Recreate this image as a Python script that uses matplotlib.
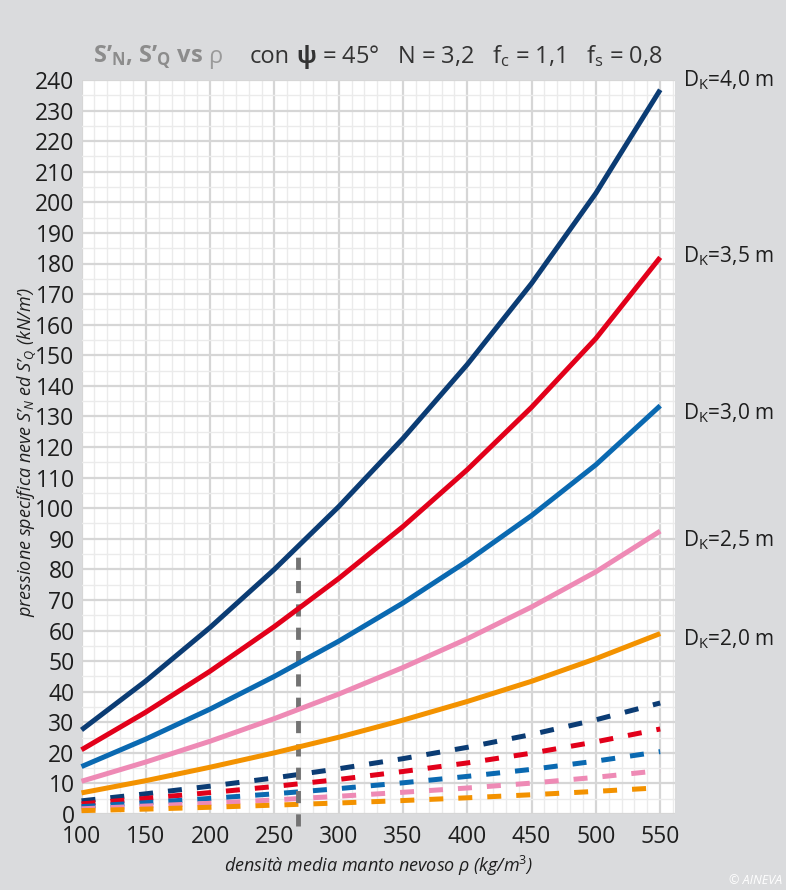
import matplotlib
matplotlib.use("Agg")
import matplotlib.pyplot as plt
from matplotlib.ticker import MultipleLocator

plt.rcParams['font.family'] = ['Open Sans', 'DejaVu Sans']
plt.rcParams['mathtext.fontset'] = 'custom'
plt.rcParams['mathtext.rm'] = 'Open Sans'
plt.rcParams['mathtext.it'] = 'Open Sans:italic'
plt.rcParams['mathtext.bf'] = 'Open Sans:bold'

# snow density (kg/m3)
rho = [100, 150, 200, 250, 300, 350, 400, 450, 500, 550]

# S'N, specific snow pressure (kN/m') for each snow depth D_K
sn_40 = [27.5, 43.5, 61.0, 80.0, 100.5, 122.8, 147.0, 173.5, 203.0, 236.8]
sn_35 = [21.0, 33.3, 46.7, 61.3, 77.0, 94.0, 112.6, 133.0, 155.5, 182.0]
sn_30 = [15.5, 24.5, 34.3, 45.0, 56.5, 69.0, 82.7, 97.6, 114.2, 133.5]
sn_25 = [10.7, 17.0, 23.8, 31.2, 39.2, 47.9, 57.3, 67.7, 79.2, 92.5]
sn_20 = [6.9, 10.9, 15.3, 20.0, 25.1, 30.7, 36.8, 43.4, 50.8, 59.0]

# S'Q, specific snow pressure (kN/m') for each snow depth D_K
sq_40 = [4.3, 6.6, 9.1, 11.8, 14.8, 18.1, 21.8, 26.0, 30.8, 36.3]
sq_35 = [3.3, 5.1, 7.0, 9.0, 11.3, 13.9, 16.7, 19.9, 23.6, 27.8]
sq_30 = [2.4, 3.7, 5.1, 6.6, 8.3, 10.2, 12.3, 14.6, 17.3, 20.4]
sq_25 = [1.7, 2.6, 3.5, 4.6, 5.8, 7.1, 8.5, 10.1, 12.0, 14.2]
sq_20 = [1.1, 1.6, 2.2, 2.9, 3.6, 4.4, 5.3, 6.3, 7.4, 8.6]

depth_labels = ["4,0", "3,5", "3,0", "2,5", "2,0"]
rho_marker = 268
sn_marker = 86.5

colors = ["#0b3c74", "#e2001a", "#0a69b1", "#ee8ab5", "#f39200"]
label_y = [240, 182.5, 131, 89.5, 57]

W, H = 786, 890
fig = plt.figure(figsize=(W / 100, H / 100), dpi=100)
bg = "#dadbdd"
fig.patch.set_facecolor(bg)

ax_l, ax_r, ax_t, ax_b = 81.5, 675, 80, 814
ax = fig.add_axes([ax_l / W, 1 - ax_b / H, (ax_r - ax_l) / W, (ax_b - ax_t) / H])
ax.set_facecolor("white")
for s in ax.spines.values():
    s.set_visible(False)

ax.set_xlim(100, 561.5)
ax.set_ylim(0, 240)
ax.xaxis.set_major_locator(MultipleLocator(50))
ax.xaxis.set_minor_locator(MultipleLocator(10))
ax.yaxis.set_major_locator(MultipleLocator(10))
ax.yaxis.set_minor_locator(MultipleLocator(5))
ax.grid(which="major", color="#d6d6d6", lw=1.6, zorder=0)
ax.grid(which="minor", color="#ebebeb", lw=1.0, zorder=0)
ax.set_axisbelow(True)
ax.tick_params(which="both", length=0, labelsize=16.5, labelcolor="#1e1e1e")
ax.tick_params(axis="y", pad=5)
ax.tick_params(axis="x", pad=8)
ax.set_xticks(range(100, 551, 50))

solid = [sn_40, sn_35, sn_30, sn_25, sn_20]
dashed = [sq_40, sq_35, sq_30, sq_25, sq_20]

for vals, c in zip(dashed, colors):
    ax.plot(rho, vals, color=c, lw=3.6, dashes=(2.8, 3.0), solid_capstyle="butt",
            dash_capstyle="butt", zorder=3, clip_on=False)

ax.plot([rho_marker, rho_marker], [-4, sn_marker], color="#737373", lw=3.5,
        dashes=(2.5, 2.3), dash_capstyle="butt", zorder=4, clip_on=False)

for vals, c in zip(solid, colors):
    ax.plot(rho, vals, color=c, lw=3.6, solid_capstyle="butt",
            solid_joinstyle="round", zorder=5, clip_on=False)

for lab, y in zip(depth_labels, label_y):
    ax.text(1 + (683 - ax_r) / (ax_r - ax_l), y, "D$_\\mathrm{K}$=" + lab + " m",
            transform=ax.get_yaxis_transform(), fontsize=15, color="#1e1e1e",
            va="center", ha="left", clip_on=False)

# title: grey bold quantity part, then the parameters chained one after another
fig.text(93 / W, 1 - 63 / H, "S’$_\\mathbf{N}$, S’$_\\mathbf{Q}$ vs", fontsize=17,
         fontweight="bold", color="#8c8c8c", ha="left", va="baseline")
fig.text(208 / W, 1 - 63 / H, "ρ", fontsize=17, color="#9a9a9a", ha="left", va="baseline")
t_con = fig.text(250 / W, 1 - 63 / H, "con", fontsize=17, color="#333333",
                 ha="left", va="baseline")
t_psi = fig.text(0, 0, "ψ", fontsize=17, fontweight="bold", color="#333333",
                 ha="left", va="baseline")
t_rest = fig.text(0, 0, "= 45°   N = 3,2   f$_\\mathrm{c}$ = 1,1   f$_\\mathrm{s}$ = 0,8",
                  fontsize=17, color="#333333", ha="left", va="baseline")

fig.canvas.draw()
r = fig.canvas.get_renderer()
bb_con = t_con.get_window_extent(r)
base_y = 1 - 63 / H
t_psi.set_position(((bb_con.x1 + 6) / W, base_y))
bb_psi = t_psi.get_window_extent(r)
t_rest.set_position(((bb_psi.x1 + 6) / W, base_y))

fig.text(379 / W, 1 - 866 / H, "densità media manto nevoso ρ (kg/m$^\\mathrm{3}$)",
         fontsize=13, style="italic", color="#1e1e1e", ha="center", va="center")
fig.text(27 / W, 1 - 452 / H, "pressione specifica neve S’$_N$ ed S’$_Q$ (kN/m’)",
         fontsize=13, style="italic", color="#1e1e1e", ha="center", va="center",
         rotation=90)

fig.text(782 / W, 1 - 881 / H, "© AINEVA", fontsize=9, style="italic", color="white",
         ha="right", va="center")

fig.savefig("out.png", dpi=100, facecolor=bg)
